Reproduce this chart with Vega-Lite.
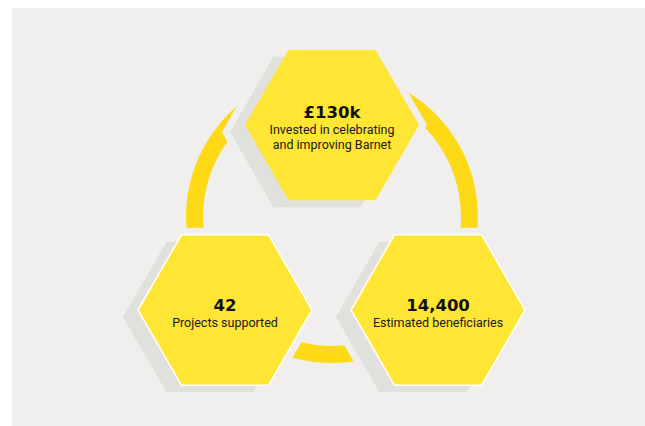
{
  "$schema": "https://vega.github.io/schema/vega-lite/v6.json",
  "width": 633,
  "height": 418,
  "autosize": {"type": "none"},
  "padding": {"left": 12, "top": 8, "right": 0, "bottom": 0},
  "background": "#ffffff",
  "config": {"view": {"stroke": null, "fill": "#f0efed"}},
  "datasets": {
    "hexes": [
      {"metric": "£130k", "label": "Invested in celebrating\nand improving Barnet", "lines": 2, "cx": 332, "cy": 125, "tier": "top"},
      {"metric": "42", "label": "Projects supported", "lines": 1, "cx": 225, "cy": 310, "tier": "bottom"},
      {"metric": "14,400", "label": "Estimated beneficiaries", "lines": 1, "cx": 438, "cy": 310, "tier": "bottom"}
    ],
    "arcs": [
      {"segment": "left", "cx": 332, "cy": 217, "start": 4.50, "end": 5.67},
      {"segment": "right", "cx": 332, "cy": 217, "start": 0.52, "end": 1.78},
      {"segment": "bottom", "cx": 332, "cy": 217, "start": 2.79, "end": 3.58}
    ]
  },
  "layer": [
    {
      "data": {"name": "arcs"},
      "mark": {"type": "arc", "radius": 146, "radius2": 129, "color": "#fdd916"},
      "encoding": {
        "x": {"field": "cx", "type": "quantitative", "scale": {"domain": [12, 645], "nice": false, "zero": false}, "axis": null},
        "y": {"field": "cy", "type": "quantitative", "scale": {"domain": [426, 8], "nice": false, "zero": false}, "axis": null},
        "theta": {"field": "start", "type": "quantitative", "scale": null, "stack": null},
        "theta2": {"field": "end"}
      }
    },
    {
      "data": {"name": "hexes"},
      "mark": {"type": "point", "shape": "M-1,0L-0.5,-0.866L0.5,-0.866L1,0L0.5,0.866L-0.5,0.866Z", "size": 30276, "filled": true, "fill": "#f0efed", "stroke": "#f0efed", "strokeWidth": 14, "strokeJoin": "miter", "opacity": 1, "xOffset": -15, "yOffset": 7},
      "encoding": {
        "x": {"field": "cx", "type": "quantitative"},
        "y": {"field": "cy", "type": "quantitative"}
      }
    },
    {
      "data": {"name": "hexes"},
      "mark": {"type": "point", "shape": "M-1,0L-0.5,-0.866L0.5,-0.866L1,0L0.5,0.866L-0.5,0.866Z", "size": 30276, "filled": true, "fill": "#f0efed", "stroke": "#f0efed", "strokeWidth": 14, "strokeJoin": "miter", "opacity": 1},
      "encoding": {
        "x": {"field": "cx", "type": "quantitative"},
        "y": {"field": "cy", "type": "quantitative"}
      }
    },
    {
      "data": {"name": "hexes"},
      "mark": {"type": "point", "shape": "M-1,0L-0.5,-0.866L0.5,-0.866L1,0L0.5,0.866L-0.5,0.866Z", "size": 30276, "filled": true, "fill": "#e0e0dc", "strokeWidth": 0, "opacity": 1, "xOffset": -15, "yOffset": 7},
      "encoding": {
        "x": {"field": "cx", "type": "quantitative"},
        "y": {"field": "cy", "type": "quantitative"}
      }
    },
    {
      "data": {"name": "hexes"},
      "mark": {"type": "point", "shape": "M-1,0L-0.5,-0.866L0.5,-0.866L1,0L0.5,0.866L-0.5,0.866Z", "size": 30276, "filled": true, "fill": "#ffe635", "stroke": "#ffffff", "strokeWidth": 1.5, "opacity": 1},
      "encoding": {
        "x": {"field": "cx", "type": "quantitative"},
        "y": {"field": "cy", "type": "quantitative"},
        "strokeOpacity": {"condition": {"test": "datum.tier === 'bottom'", "value": 1}, "value": 0}
      }
    },
    {
      "data": {"name": "hexes"},
      "transform": [{"filter": "datum.lines == 2"}],
      "mark": {"type": "text", "font": "DejaVu Sans", "fontWeight": "bold", "fontSize": 16.5, "baseline": "alphabetic", "align": "center", "yOffset": -7, "color": "#111111"},
      "encoding": {
        "x": {"field": "cx", "type": "quantitative"},
        "y": {"field": "cy", "type": "quantitative"},
        "text": {"field": "metric"}
      }
    },
    {
      "data": {"name": "hexes"},
      "transform": [{"filter": "datum.lines == 1"}],
      "mark": {"type": "text", "font": "DejaVu Sans", "fontWeight": "bold", "fontSize": 16.5, "baseline": "alphabetic", "align": "center", "yOffset": 1, "color": "#111111"},
      "encoding": {
        "x": {"field": "cx", "type": "quantitative"},
        "y": {"field": "cy", "type": "quantitative"},
        "text": {"field": "metric"}
      }
    },
    {
      "data": {"name": "hexes"},
      "transform": [{"filter": "datum.lines == 2"}],
      "mark": {"type": "text", "font": "Roboto", "fontSize": 12.5, "baseline": "alphabetic", "align": "center", "yOffset": 9, "lineBreak": "\n", "lineHeight": 15, "color": "#1a1a1a"},
      "encoding": {
        "x": {"field": "cx", "type": "quantitative"},
        "y": {"field": "cy", "type": "quantitative"},
        "text": {"field": "label"}
      }
    },
    {
      "data": {"name": "hexes"},
      "transform": [{"filter": "datum.lines == 1"}],
      "mark": {"type": "text", "font": "Roboto", "fontSize": 12.5, "baseline": "alphabetic", "align": "center", "yOffset": 17, "color": "#1a1a1a"},
      "encoding": {
        "x": {"field": "cx", "type": "quantitative"},
        "y": {"field": "cy", "type": "quantitative"},
        "text": {"field": "label"}
      }
    }
  ]
}
